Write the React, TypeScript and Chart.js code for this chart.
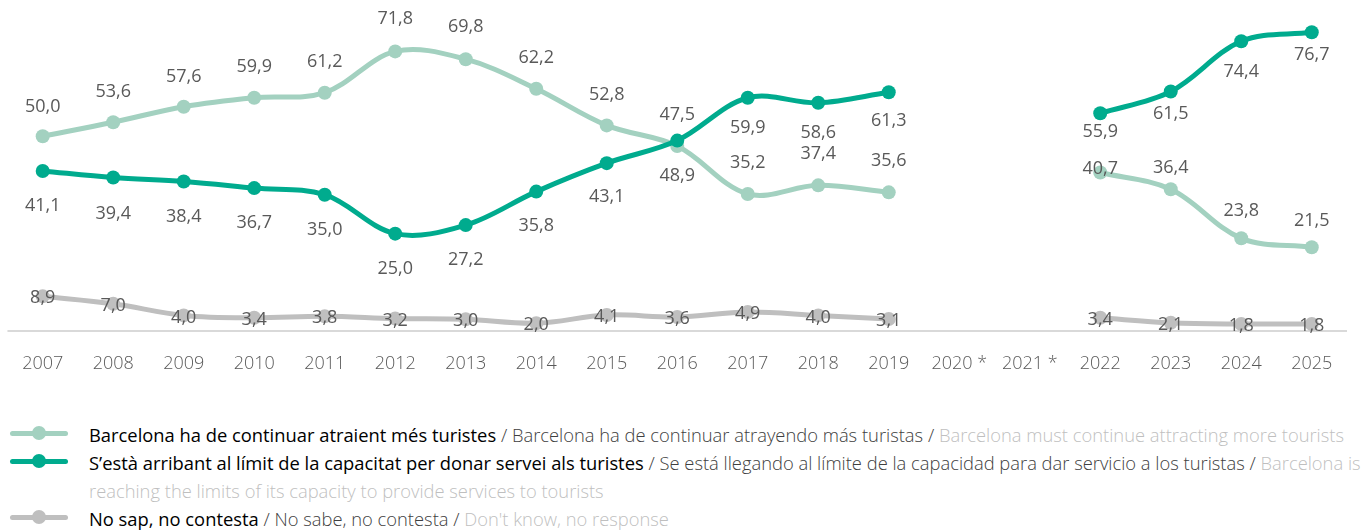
import React, { useEffect, useRef } from "react";
import { Chart, registerables } from "chart.js";

Chart.register(...registerables);

const categories = [
  "2007", "2008", "2009", "2010", "2011", "2012", "2013", "2014", "2015", "2016",
  "2017", "2018", "2019", "2020 *", "2021 *", "2022", "2023", "2024", "2025",
];

const attractMore: (number | null)[] = [
  50.0, 53.6, 57.6, 59.9, 61.2, 71.8, 69.8, 62.2, 52.8, 47.5,
  35.2, 37.4, 35.6, null, null, 40.7, 36.4, 23.8, 21.5,
];

const atLimit: (number | null)[] = [
  41.1, 39.4, 38.4, 36.7, 35.0, 25.0, 27.2, 35.8, 43.1, 48.9,
  59.9, 58.6, 61.3, null, null, 55.9, 61.5, 74.4, 76.7,
];

const noAnswer: (number | null)[] = [
  8.9, 7.0, 4.0, 3.4, 3.8, 3.2, 3.0, 2.0, 4.1, 3.6,
  4.9, 4.0, 3.1, null, null, 3.4, 2.1, 1.8, 1.8,
];

const LIGHT = "#a3d1c0";
const DARK = "#00ab8e";
const GREY = "#bfbfbf";
const FONT = "'Open Sans', 'Noto Sans', sans-serif";

// vertical offsets (px) of each value label relative to its point
const darkLabelDy = [35, 36, 35, 35, 35, 35, 35, 34, 34, 35, 30, 30, 29, 0, 0, 19, 22, 31, 23];
const lightLabelDy = [-29, -30, -30, -31, -31, -33, -32, -31, -31, -31, -31, -31, -31, 0, 0, -4, -21, -27, -26];
const greyLabelDy = 2;

const legendItems = [
  {
    color: LIGHT,
    ca: "Barcelona ha de continuar atraient més turistes",
    es: "Barcelona ha de continuar atrayendo más turistas",
    en: ["Barcelona must continue attracting more tourists"],
  },
  {
    color: DARK,
    ca: "S’està arribant al límit de la capacitat per donar servei als turistes",
    es: "Se está llegando al límite de la capacidad para dar servicio a los turistas",
    en: ["Barcelona is", "reaching the limits of its capacity to provide services to tourists"],
  },
  {
    color: GREY,
    ca: "No sap, no contesta",
    es: "No sabe, no contesta",
    en: ["Don't know, no response"],
  },
];

const fmt = (v: number) => v.toFixed(1).replace(".", ",");

const labelPlugin = {
  id: "valueLabels",
  beforeDatasetsDraw(chart: any) {
    const { ctx, chartArea, scales } = chart;
    const y0 = scales.y.getPixelForValue(0);
    ctx.save();
    ctx.strokeStyle = "#d9d9d9";
    ctx.lineWidth = 2;
    ctx.beginPath();
    ctx.moveTo(chartArea.left, y0);
    ctx.lineTo(chartArea.right, y0);
    ctx.stroke();
    ctx.restore();
  },
  afterDatasetsDraw(chart: any) {
    const ctx = chart.ctx;
    ctx.save();
    ctx.font = `400 18px ${FONT}`;
    ctx.fillStyle = "#595959";
    ctx.textAlign = "center";
    ctx.textBaseline = "middle";
    chart.data.datasets.forEach((ds: any, i: number) => {
      const meta = chart.getDatasetMeta(i);
      const off = ds.labelDy;
      meta.data.forEach((pt: any, j: number) => {
        const v = ds.data[j];
        if (v == null) return;
        const dy = Array.isArray(off) ? off[j] : off;
        ctx.fillText(fmt(v), pt.x, pt.y + dy);
      });
    });
    ctx.restore();
  },
};

function ChartCanvas() {
  const ref = useRef<HTMLCanvasElement | null>(null);
  useEffect(() => {
    if (!ref.current) return;
    const mk = (label: string, data: (number | null)[], color: string, dy: number | number[]) => ({
      label,
      data,
      borderColor: color,
      backgroundColor: color,
      pointBackgroundColor: color,
      pointBorderWidth: 0,
      borderWidth: 5,
      pointRadius: 7,
      pointHoverRadius: 7,
      tension: 0.35,
      spanGaps: false,
      borderCapStyle: "round",
      labelDy: dy,
    });
    const chart = new Chart(ref.current, {
      type: "line",
      data: {
        labels: categories,
        datasets: [
          mk("atLimit", atLimit, DARK, darkLabelDy),
          mk("attractMore", attractMore, LIGHT, lightLabelDy),
          mk("noAnswer", noAnswer, GREY, greyLabelDy),
        ] as any,
      },
      options: {
        animation: false,
        responsive: true,
        maintainAspectRatio: false,
        devicePixelRatio: 1,
        layout: { autoPadding: false, padding: { left: 6, right: 22, top: 0, bottom: 0 } },
        plugins: { legend: { display: false }, tooltip: { enabled: false } },
        scales: {
          y: { display: false, min: 0, max: 85 },
          x: {
            offset: true,
            grid: { display: false, drawTicks: false },
            border: { display: false },
            ticks: {
              color: "#595959",
              font: { family: FONT, size: 18, weight: 300 as any },
              padding: 22,
              maxRotation: 0,
              autoSkip: false,
            },
            afterFit: (s: any) => {
              s.height = 49;
            },
          },
        },
      },
      plugins: [labelPlugin as any],
    });
    return () => chart.destroy();
  }, []);
  return (
    <div style={{ position: "absolute", left: 0, top: 0, width: 1369, height: 380 }}>
      <canvas ref={ref} />
    </div>
  );
}

function Legend() {
  const rowH = 28;
  let row = 0;
  const rows: React.ReactNode[] = [];
  legendItems.forEach((it, k) => {
    const markerTop = 421 + row * rowH + rowH / 2 - 2;
    rows.push(
      <div key={"m" + k}>
        <div
          style={{
            position: "absolute",
            left: 10,
            top: markerTop - 2.5,
            width: 58,
            height: 5,
            borderRadius: 3,
            background: it.color,
          }}
        />
        <div
          style={{
            position: "absolute",
            left: 32,
            top: markerTop - 7,
            width: 14,
            height: 14,
            borderRadius: 7,
            background: it.color,
          }}
        />
      </div>
    );
    rows.push(
      <div
        key={"t" + k}
        style={{
          position: "absolute",
          left: 89,
          top: 421 + row * rowH,
          lineHeight: rowH + "px",
          whiteSpace: "nowrap",
        }}
      >
        <span style={{ color: "#000", fontWeight: 400 }}>{it.ca}</span>
        <span style={{ color: "#404040", fontWeight: 300 }}>{" / " + it.es + " / "}</span>
        <span style={{ color: "#bfbfbf", fontWeight: 300 }}>{it.en[0]}</span>
        {it.en.slice(1).map((t, q) => (
          <React.Fragment key={q}>
            <br />
            <span style={{ color: "#bfbfbf", fontWeight: 300 }}>{t}</span>
          </React.Fragment>
        ))}
      </div>
    );
    row += it.en.length;
  });
  return <>{rows}</>;
}

export default function App() {
  return (
    <div
      style={{
        position: "absolute",
        left: 0,
        top: 0,
        width: 1369,
        height: 530,
        background: "#fff",
        fontFamily: FONT,
        fontSize: 18.35,
        overflow: "hidden",
      }}
    >
      <ChartCanvas />
      <Legend />
    </div>
  );
}
